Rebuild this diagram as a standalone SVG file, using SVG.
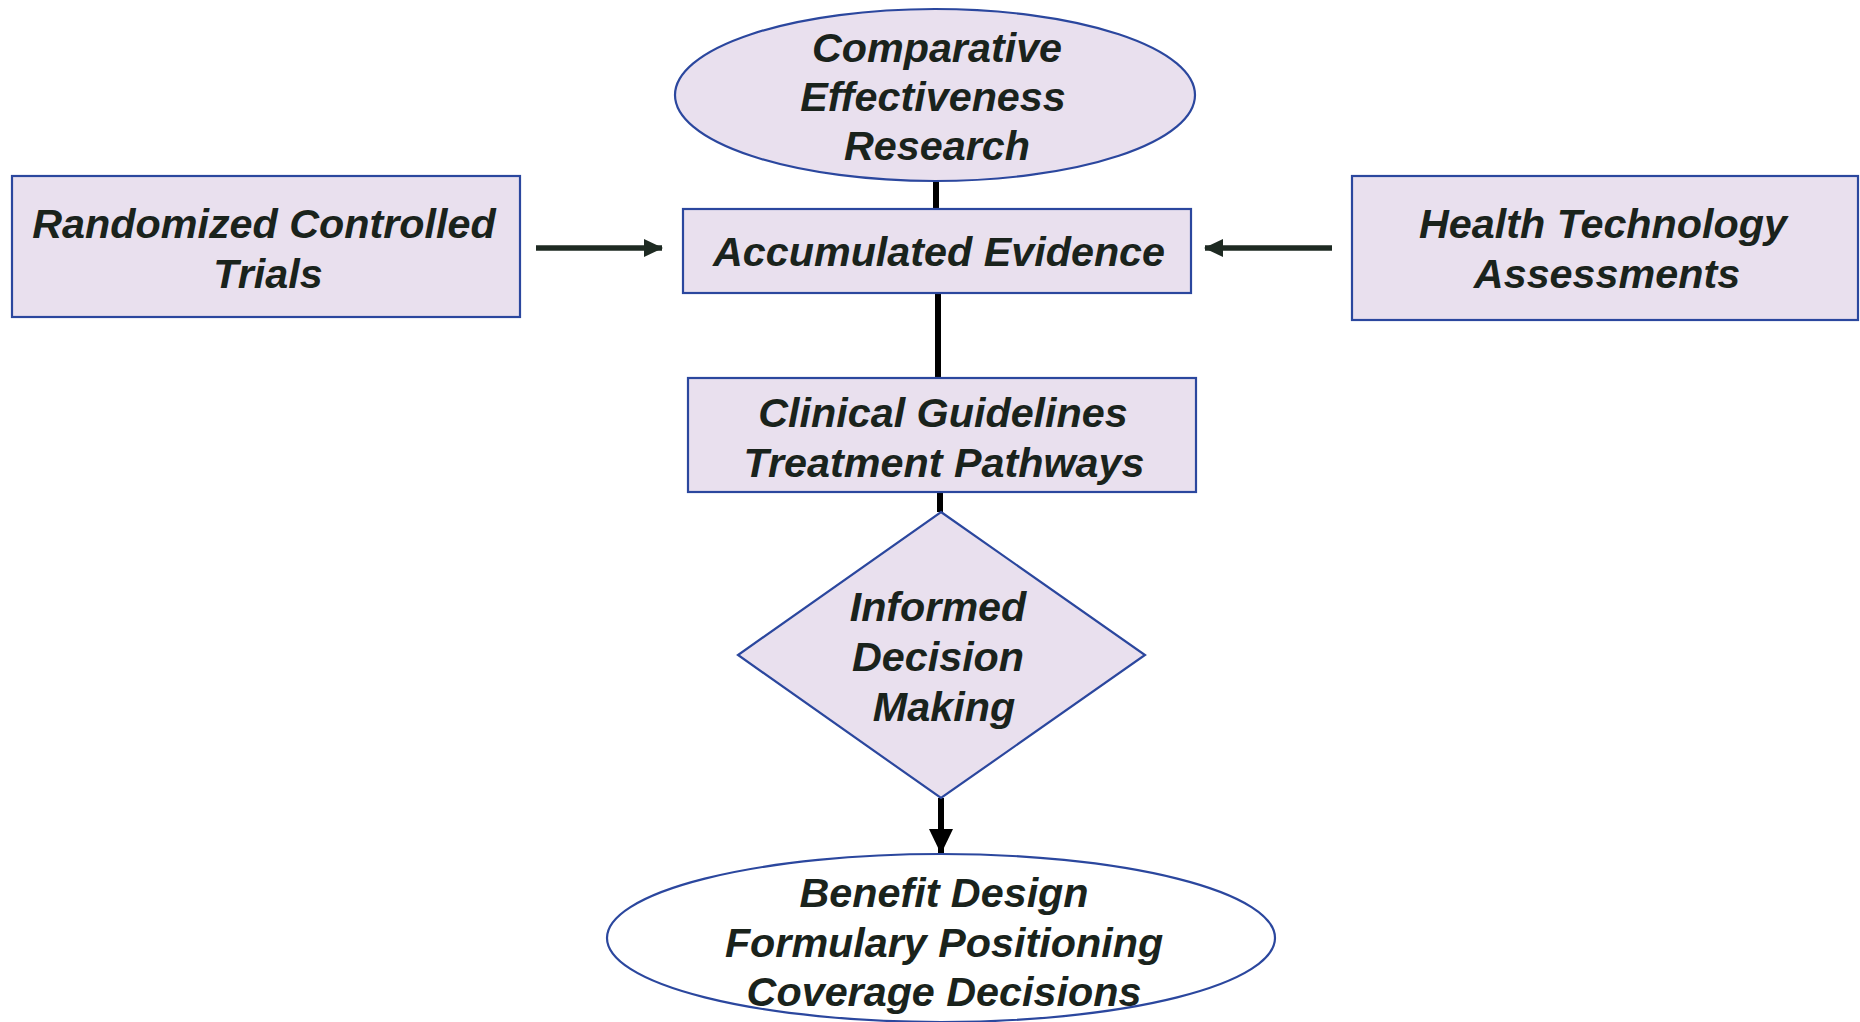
<svg xmlns="http://www.w3.org/2000/svg" width="1860" height="1022" viewBox="0 0 1860 1022">
<defs>
<style>
.shape{fill:#E9E0EE;stroke:#2B479E;stroke-width:2.2}
.white{fill:#FFFFFF;stroke:#2B479E;stroke-width:2.2}
.t{font-family:"Liberation Sans",Arial,sans-serif;font-weight:bold;font-style:italic;font-size:41.3px;fill:#1A231C;text-anchor:middle}
.conn{stroke:#000;stroke-width:6;fill:none}
.side{stroke:#1E2A22;stroke-width:5.5;fill:none}
</style>
<marker id="hs" markerUnits="userSpaceOnUse" markerWidth="20" markerHeight="18" refX="18" refY="9" orient="auto">
<path d="M0,0 L19,9 L0,18 Z" fill="#1E2A22"/>
</marker>
<marker id="hb" markerUnits="userSpaceOnUse" markerWidth="26" markerHeight="24" refX="24" refY="12" orient="auto">
<path d="M0,0 L25,12 L0,24 Z" fill="#000"/>
</marker>
</defs>
<rect width="1860" height="1022" fill="#FFFFFF"/>
<g id="connectors">
<line class="conn" x1="936" y1="181" x2="936" y2="209"/>
<line class="conn" x1="938" y1="293" x2="938" y2="378"/>
<line class="conn" x1="940" y1="492" x2="940" y2="512"/>
<line class="conn" x1="941" y1="798" x2="941" y2="853" marker-end="url(#hb)"/>
<line class="side" x1="536" y1="248" x2="662" y2="248" marker-end="url(#hs)"/>
<line class="side" x1="1332" y1="248" x2="1205" y2="248" marker-end="url(#hs)"/>
</g>
<g id="cer">
<ellipse class="shape" cx="935" cy="95" rx="260" ry="86"/>
<text class="t" x="937" y="62">Comparative</text>
<text class="t" x="933" y="111">Effectiveness</text>
<text class="t" x="937" y="160">Research</text>
</g>
<g id="rct">
<rect class="shape" x="12" y="176" width="508" height="141"/>
<text class="t" x="264" y="238">Randomized Controlled</text>
<text class="t" x="268" y="288">Trials</text>
</g>
<g id="evidence">
<rect class="shape" x="683" y="209" width="508" height="84"/>
<text class="t" x="939" y="266">Accumulated Evidence</text>
</g>
<g id="hta">
<rect class="shape" x="1352" y="176" width="506" height="144"/>
<text class="t" x="1603" y="238">Health Technology</text>
<text class="t" x="1607" y="288">Assessments</text>
</g>
<g id="guidelines">
<rect class="shape" x="688" y="378" width="508" height="114"/>
<text class="t" x="943" y="427">Clinical Guidelines</text>
<text class="t" x="944" y="477">Treatment Pathways</text>
</g>
<g id="decision">
<polygon class="shape" points="941,512 1145,655 941,798 738,655"/>
<text class="t" x="938" y="621">Informed</text>
<text class="t" x="938" y="671">Decision</text>
<text class="t" x="944" y="721">Making</text>
</g>
<g id="outcome">
<ellipse class="white" cx="941" cy="938" rx="334" ry="84"/>
<text class="t" x="944" y="907">Benefit Design</text>
<text class="t" x="944" y="957">Formulary Positioning</text>
<text class="t" x="944" y="1006">Coverage Decisions</text>
</g>
</svg>
